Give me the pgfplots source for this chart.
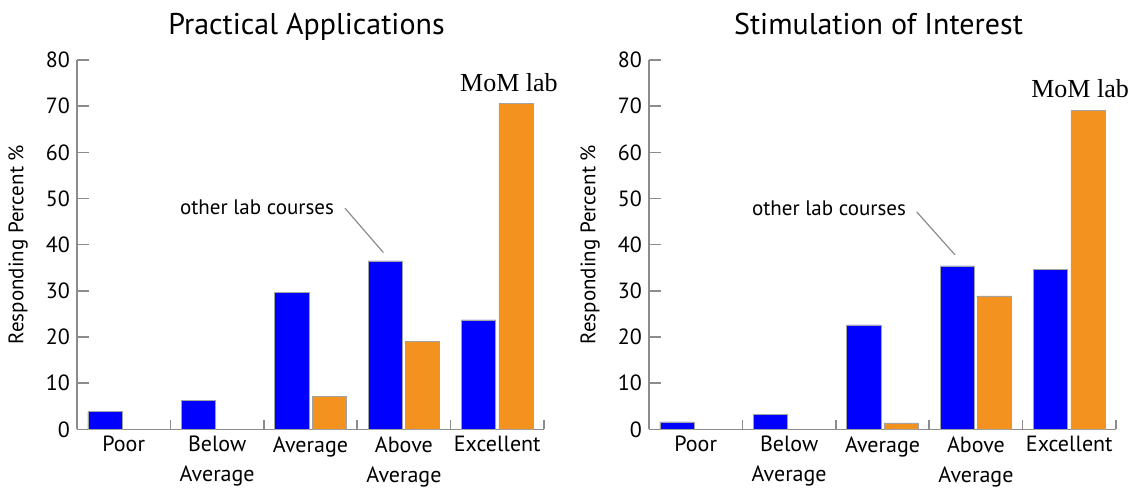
\documentclass[border=0pt]{standalone}
\usepackage{fontspec}
\setmainfont{PT Sans}
\newfontfamily\timesf{Liberation Serif}
\usepackage{pgfplots}
\pgfplotsset{compat=1.18}
\definecolor{barblue}{RGB}{0,0,255}
\definecolor{barorange}{RGB}{243,146,31}
\definecolor{axgray}{RGB}{140,140,140}
\pgfplotsset{
  panel/.style={
    anchor=south west, scale only axis,
    width=233.5pt, height=184.65pt,
    xmin=-0.5, xmax=4.5, ymin=0, ymax=80,
    axis lines=left,
    axis line style={-, draw=axgray, line width=0.75pt},
    tick align=inside,
    major tick length=6pt,
    ytick={0,10,...,80},
    y tick style={draw=axgray, line width=0.75pt},
    xtick={0,1,2,3,4},
    xticklabels={Poor, Below\\Average, Average, Above\\Average, Excellent},
    x tick style={draw=none},
    extra x ticks={0.5,1.5,2.5,3.5,4.5},
    extra x tick labels={},
    extra x tick style={x tick style={draw=axgray, line width=0.75pt}, major tick length=4.5pt},
    /pgf/number format/assume math mode=true,
    yticklabel style={font=\fontsize{11}{13}\selectfont},
    xticklabel style={font=\fontsize{11}{15}\selectfont, align=center},
    every axis y label/.style={at={(axis description cs:-0.126,0.5)}, rotate=90, anchor=center},
    ylabel={Responding Percent \%},
    ylabel style={font=\fontsize{10.5}{12}\selectfont},
    title style={at={(0.5,1)}, anchor=base, yshift=7pt, xshift=-2pt, font=\fontsize{15}{17}\selectfont},
    clip=false,
  },
  bblue/.style={ybar, bar width=0.367, bar shift=-0.2, fill=barblue, draw=axgray!80, line width=0.3pt},
  borange/.style={ybar, bar width=0.367, bar shift=0.2, fill=barorange, draw=axgray!80, line width=0.3pt},
}
\begin{document}
\begin{tikzpicture}
\useasboundingbox (0,0) rectangle (569pt,244.5pt);
\begin{axis}[panel, at={(38.5pt,29.85pt)}, title={Practical Applications}]
  \addplot[bblue] coordinates {(0,3.8) (1,6.2) (2,29.7) (3,36.5) (4,23.7)};
  \addplot[borange] coordinates {(2,7.2) (3,19.0) (4,70.6)};
  \node[font=\fontsize{10.5}{12}\selectfont] at (axis cs:1.427,48.2) {other lab courses};
  \draw[axgray, line width=0.6pt] (axis cs:2.369,47.9) -- (axis cs:2.78,38.3);
  \node[font=\timesf\fontsize{13}{15}\selectfont] at (axis cs:4.125,75.0) {MoM lab};
\end{axis}
\begin{axis}[panel, at={(324.5pt,29.85pt)}, title={Stimulation of Interest}]
  \addplot[bblue] coordinates {(0,1.6) (1,3.3) (2,22.6) (3,35.4) (4,34.7)};
  \addplot[borange] coordinates {(2,1.4) (3,28.9) (4,69.0)};
  \node[font=\fontsize{10.5}{12}\selectfont] at (axis cs:1.427,47.9) {other lab courses};
  \draw[axgray, line width=0.6pt] (axis cs:2.366,47.1) -- (axis cs:2.776,37.8);
  \node[font=\timesf\fontsize{13}{15}\selectfont] at (axis cs:4.115,73.9) {MoM lab};
\end{axis}
\end{tikzpicture}
\end{document}
